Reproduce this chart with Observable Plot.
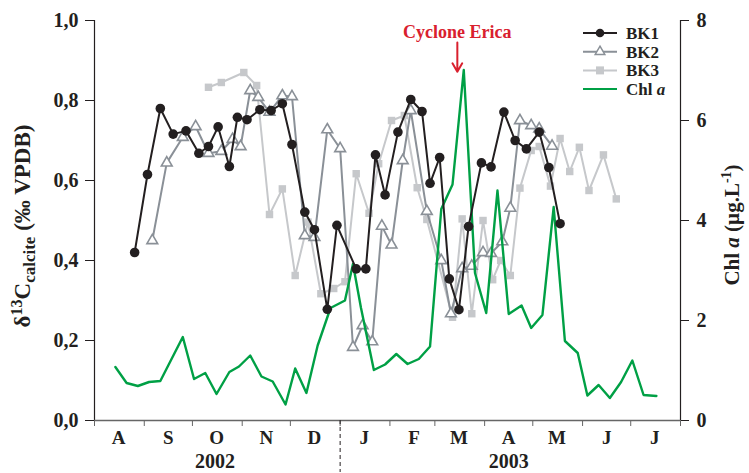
<!DOCTYPE html>
<html><head><meta charset="utf-8">
<script src="https://cdn.jsdelivr.net/npm/d3@7"></script>
<script src="https://cdn.jsdelivr.net/npm/@observablehq/plot@0.6"></script>
<style>
body{margin:0;background:#fff;}
#wrap{position:relative;width:749px;height:473px;}
</style></head><body><div id="wrap"></div>
<script>
// ---------- data ----------
const bk1Dates = ["2002-08-26","2002-09-03","2002-09-11","2002-09-19","2002-09-27","2002-10-05","2002-10-11","2002-10-17","2002-10-24","2002-10-29","2002-11-04","2002-11-12","2002-11-19","2002-11-26","2002-12-02","2002-12-10","2002-12-16","2002-12-24","2002-12-30","2003-01-11","2003-01-17","2003-01-23","2003-01-29","2003-02-06","2003-02-14","2003-02-21","2003-02-26","2003-03-04","2003-03-10","2003-03-16","2003-03-22","2003-03-30","2003-04-05","2003-04-13","2003-04-20","2003-04-27","2003-05-05","2003-05-11","2003-05-18"];
const bk1Values = [0.42,0.615,0.78,0.716,0.724,0.668,0.685,0.734,0.635,0.758,0.752,0.777,0.775,0.792,0.69,0.521,0.477,0.278,0.488,0.379,0.379,0.664,0.564,0.721,0.8025,0.7725,0.593,0.6575,0.354,0.277,0.485,0.644,0.634,0.771,0.70,0.679,0.721,0.6325,0.492];

const bk2Dates = ["2002-09-06","2002-09-15","2002-09-25","2002-10-03","2002-10-11","2002-10-19","2002-10-26","2002-10-31","2002-11-06","2002-11-11","2002-11-18","2002-11-26","2002-12-02","2002-12-10","2002-12-16","2002-12-24","2003-01-01","2003-01-09","2003-01-15","2003-01-21","2003-01-27","2003-02-02","2003-02-09","2003-02-14","2003-02-24","2003-03-05","2003-03-11","2003-03-18","2003-03-24","2003-03-31","2003-04-05","2003-04-12","2003-04-17","2003-04-23","2003-04-30","2003-05-05","2003-05-13"];
const bk2Values = [0.45,0.644,0.708,0.735,0.668,0.673,0.703,0.685,0.825,0.808,0.771,0.812,0.81,0.4625,0.458,0.727,0.68,0.183,0.2375,0.197,0.486,0.439,0.65,0.775,0.523,0.40,0.267,0.38,0.386,0.42,0.418,0.447,0.531,0.75,0.7375,0.729,0.686];

const bk3Dates = ["2002-10-11","2002-10-19","2002-11-02","2002-11-10","2002-11-18","2002-11-26","2002-12-04","2002-12-12","2002-12-20","2002-12-28","2003-01-04","2003-01-11","2003-01-19","2003-01-25","2003-02-02","2003-02-10","2003-02-18","2003-02-24","2003-03-12","2003-03-18","2003-03-24","2003-03-31","2003-04-06","2003-04-11","2003-04-17","2003-04-23","2003-04-30","2003-05-05","2003-05-12","2003-05-18","2003-05-24","2003-05-30","2003-06-05","2003-06-14","2003-06-22"];
const bk3Values = [0.833,0.845,0.87,0.8375,0.515,0.579,0.3625,0.496,0.317,0.33,0.347,0.617,0.518,0.642,0.75,0.7625,0.582,0.5025,0.258,0.504,0.267,0.50,0.352,0.40,0.3625,0.581,0.675,0.685,0.586,0.705,0.6225,0.683,0.575,0.664,0.554];

const chlDates = ["2002-08-14","2002-08-21","2002-08-28","2002-09-04","2002-09-11","2002-09-25","2002-10-02","2002-10-09","2002-10-16","2002-10-24","2002-10-30","2002-11-06","2002-11-13","2002-11-20","2002-11-28","2002-12-04","2002-12-11","2002-12-18","2002-12-26","2003-01-04","2003-01-09","2003-01-14","2003-01-22","2003-01-29","2003-02-05","2003-02-12","2003-02-19","2003-02-26","2003-03-05","2003-03-12","2003-03-19","2003-03-26","2003-04-02","2003-04-09","2003-04-16","2003-04-24","2003-04-30","2003-05-07","2003-05-14","2003-05-21","2003-05-29","2003-06-04","2003-06-11","2003-06-18","2003-06-25","2003-07-02","2003-07-09","2003-07-17"];
const chlValues = [1.07,0.75,0.69,0.77,0.79,1.67,0.83,0.95,0.53,0.97,1.08,1.30,0.88,0.78,0.32,1.04,0.55,1.50,2.25,2.40,3.13,2.25,1.01,1.12,1.33,1.13,1.23,1.48,4.23,4.72,7.01,2.95,2.15,4.60,2.13,2.30,1.85,2.11,4.27,1.59,1.35,0.50,0.71,0.45,0.77,1.20,0.51,0.49];

const monthLabels = ["A","S","O","N","D","J","F","M","A","M","J","J"];
const yearLabels = ["2002","2003"];
const yearLabelDates = ["2002-10-15","2003-04-16"];
const leftTicks = [0, 0.2, 0.4, 0.6, 0.8, 1.0];
const rightTicks = [0, 2, 4, 6, 8];
const chlMax = 8;
const cycloneDate = "2003-03-15";
const cycloneLabel = "Cyclone Erica";
const seriesNames = ["BK1","BK2","BK3","Chl a"];

// ---------- build ----------
const parse = d3.utcParse("%Y-%m-%d");
const rows = (dates, values) => dates.map((d, i) => ({date: parse(d), value: values[i]}));
const bk1 = rows(bk1Dates, bk1Values);
const bk2 = rows(bk2Dates, bk2Values);
const bk3 = rows(bk3Dates, bk3Values);
const chl = rows(chlDates, chlValues).map(d => ({date: d.date, value: d.value / chlMax}));
const years = yearLabels.map((t, i) => ({date: parse(yearLabelDates[i]), text: t}));

const x0 = parse("2002-08-01"), x1 = parse("2003-08-01");
const monthStarts = d3.utcMonth.range(x0, d3.utcDay.offset(x1, 1));
const monthMids = d3.utcMonth.range(x0, x1).map(d => d3.utcDay.offset(d, 15));

const C1 = "#231f20", C2 = "#8a9097", C3 = "#c6c8cb", CG = "#00a045", CR = "#d9202e";
const FONT = "'Liberation Serif','Times New Roman',serif";

const chart = Plot.plot({
  width: 749, height: 473,
  marginLeft: 94, marginRight: 69, marginTop: 20, marginBottom: 53,
  style: {fontFamily: FONT, fontWeight: "bold", fontSize: "20px", color: C1, background: "#fff", overflow: "visible"},
  x: {type: "utc", domain: [x0, x1]},
  y: {domain: [0, 1]},
  marks: [
    Plot.axisY({ticks: leftTicks, tickFormat: d => d.toFixed(1).replace(".", ","), tickSize: 9, tickPadding: 7, label: null, fontSize: 20, stroke: C1}),
    Plot.axisY({anchor: "right", ticks: rightTicks.map(v => v / chlMax), tickFormat: v => String(Math.round(v * chlMax)), tickSize: 8, tickPadding: 8, label: null, fontSize: 20, stroke: C1}),
    Plot.axisX({ticks: monthStarts, tickSize: 6, tickFormat: () => "", label: null, stroke: "#666"}),
    Plot.axisX({ticks: monthMids, tickSize: 0, tickPadding: 10, tickFormat: d => monthLabels[(d.getUTCMonth() + 5) % 12], label: null, fontSize: 19}),
    Plot.ruleX([x0, x1], {stroke: C1, strokeWidth: 1.2}),
    Plot.ruleY([0], {stroke: "#666", strokeWidth: 1.5}),
    Plot.ruleX([parse("2003-01-01")], {y1: 0, y2: -0.13, stroke: C1, strokeDasharray: "4,3", strokeWidth: 1}),
    Plot.text(years, {x: "date", y: 0, dy: 41, text: "text", fontSize: 20, fontWeight: "bold", fill: C1}),
    Plot.line(bk3, {x: "date", y: "value", stroke: C3, strokeWidth: 2}),
    Plot.dot(bk3, {x: "date", y: "value", symbol: "square", r: 4.2, fill: C3}),
    Plot.line(bk2, {x: "date", y: "value", stroke: C2, strokeWidth: 2}),
    Plot.dot(bk2, {x: "date", y: "value", symbol: "triangle", r: 4, fill: "#fff", stroke: C2, strokeWidth: 1.6}),
    Plot.line(chl, {x: "date", y: "value", stroke: CG, strokeWidth: 2.4}),
    Plot.line(bk1, {x: "date", y: "value", stroke: C1, strokeWidth: 2}),
    Plot.dot(bk1, {x: "date", y: "value", r: 4.8, fill: C1}),
    Plot.arrow([parse(cycloneDate)], {x1: d => d, x2: d => d, y1: 0.945, y2: 0.872, stroke: CR, strokeWidth: 2, headLength: 8}),
    Plot.text([cycloneLabel], {x: parse(cycloneDate), y: 0.97, text: d => d, fill: CR, fontSize: 18, fontWeight: "bold"})
  ]
});
document.getElementById("wrap").appendChild(chart);

// ---------- axis titles & legend ----------
const svg = d3.select(chart);
const lt = svg.append("text").attr("transform", "translate(30,226) rotate(-90)")
  .attr("text-anchor", "middle").attr("font-family", FONT).attr("font-weight", "bold").attr("font-size", 23).attr("fill", C1);
lt.append("tspan").text("δ");
lt.append("tspan").attr("dy", -8).attr("font-size", 16).text("13");
lt.append("tspan").attr("dy", 8).text("C");
lt.append("tspan").attr("dy", 5).attr("font-size", 17).text("calcite");
lt.append("tspan").attr("dy", -5).text(" (‰ VPDB)");

const rt = svg.append("text").attr("transform", "translate(739,225) rotate(-90)")
  .attr("text-anchor", "middle").attr("font-family", FONT).attr("font-weight", "bold").attr("font-size", 21).attr("fill", C1);
rt.append("tspan").text("Chl ");
rt.append("tspan").attr("font-style", "italic").text("a");
rt.append("tspan").text(" (µg.L");
rt.append("tspan").attr("dy", -8).attr("font-size", 14).text("-1");
rt.append("tspan").attr("dy", 8).text(")");

const lg = svg.append("g").attr("font-family", FONT).attr("font-weight", "bold").attr("font-size", 17).attr("fill", C1).attr("text-anchor", "start");
const lgCols = [C1, C2, C3, CG];
seriesNames.forEach((name, i) => {
  const yy = 33 + i * 18.7;
  lg.append("line").attr("x1", 583).attr("x2", 617).attr("y1", yy).attr("y2", yy)
    .attr("stroke", lgCols[i]).attr("stroke-width", 2);
  if (i === 0) lg.append("circle").attr("cx", 600).attr("cy", yy).attr("r", 4.3).attr("fill", C1);
  if (i === 1) lg.append("path").attr("d", d3.symbol(d3.symbolTriangle, 40)()).attr("transform", `translate(600,${yy})`).attr("fill", "#fff").attr("stroke", C2).attr("stroke-width", 1.5);
  if (i === 2) lg.append("rect").attr("x", 596).attr("y", yy - 4).attr("width", 8).attr("height", 8).attr("fill", C3);
  const t = lg.append("text").attr("x", 626).attr("y", yy + 6).attr("text-anchor", "start");
  if (name === "Chl a") { t.append("tspan").text("Chl "); t.append("tspan").attr("font-style", "italic").text("a"); }
  else t.text(name);
});
</script>
</body></html>
